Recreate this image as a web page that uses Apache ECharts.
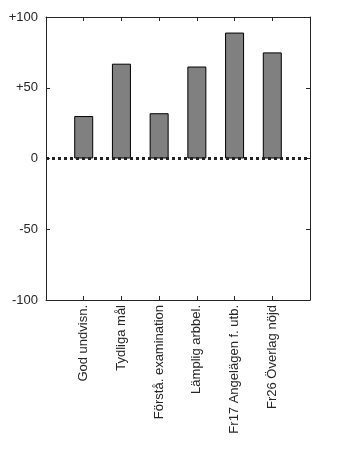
<!DOCTYPE html>
<html><head><meta charset="utf-8">
<script src="https://cdn.jsdelivr.net/npm/echarts@6/dist/echarts.min.js"></script>
<style>html,body{margin:0;padding:0;background:#fff}#c{width:354px;height:472px}</style>
</head><body><div id="c"></div>
<script>
var categories = ['God undvisn.', 'Tydliga mål', 'Förstå. examination', 'Lämplig arbbel.', 'Fr17 Angelägen f. utb.', 'Fr26 Överlag nöjd'];
var values = [30, 67, 32, 65, 89, 75];
var yTicks = [-100, -50, 0, 50, 100];
var zeroLineX = [0, 7];

var barData = values.map(function(v, i){ return [i + 1, v]; });
var zeroData = zeroLineX.map(function(x){ return [x, 0]; });
var ink = '#262626';
var font = 'Liberation Sans, Arial, sans-serif';
var line = {show: true, onZero: false, lineStyle: {color: ink, width: 1}};
var tick = {show: true, inside: true, length: 4, lineStyle: {color: ink, width: 1}};

var chart = echarts.init(document.getElementById('c'));
chart.setOption({
  animation: false,
  grid: {left: 46, right: 44, top: 17, bottom: 172, show: false},
  xAxis: [{
    type: 'value', min: 0, max: zeroLineX[1], interval: 1, position: 'bottom',
    axisLine: line, splitLine: {show: false}, axisTick: tick,
    axisLabel: {rotate: 90, margin: 5, color: ink, fontSize: 13, fontFamily: font, padding: [6, 0, 0, 0],
      formatter: function(v){ return categories[v - 1] || ''; }}
  }, {
    type: 'value', min: 0, max: zeroLineX[1], interval: 1, position: 'top',
    axisLine: line, splitLine: {show: false}, axisLabel: {show: false}, axisTick: tick
  }],
  yAxis: [{
    type: 'value', min: yTicks[0], max: yTicks[yTicks.length - 1], interval: 50, position: 'left',
    axisLine: line, splitLine: {show: false}, axisTick: tick,
    axisLabel: {margin: 8, color: ink, fontSize: 13, fontFamily: font,
      formatter: function(v){ return v > 0 ? '+' + v : String(v); }}
  }, {
    type: 'value', min: yTicks[0], max: yTicks[yTicks.length - 1], interval: 50, position: 'right',
    axisLine: line, splitLine: {show: false}, axisLabel: {show: false}, axisTick: tick
  }],
  series: [{
    type: 'bar', data: barData, barWidth: 19,
    itemStyle: {color: '#808080', borderColor: '#000', borderWidth: 1}
  }, {
    type: 'line', data: zeroData, symbol: 'none', z: 5,
    lineStyle: {color: '#222', width: 3, type: [3, 3]}
  }]
});
</script></body></html>
